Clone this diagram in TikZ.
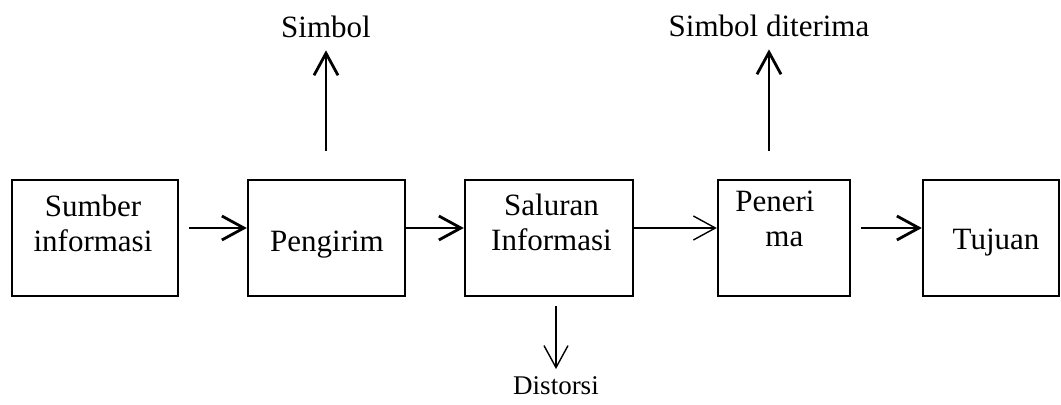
\documentclass[tikz,border=0pt]{standalone}
\usepackage{fontspec}
\setmainfont{Liberation Serif}
\usetikzlibrary{arrows.meta}

\begin{document}
\begin{tikzpicture}[x=0.5pt,y=-0.5pt,>={Straight Barb[length=11pt,width=12pt]},
  every node/.style={font=\fontsize{15.5}{17.5}\selectfont},
  box/.style={draw,line width=1.2pt,minimum height=58pt,inner sep=0pt},
  arr/.style={->,line width=1.4pt},
  thinarr/.style={->,line width=0.7pt}]
  \useasboundingbox (0,0) rectangle (1061,405);

  % kotak-kotak
  \node[box,minimum width=83pt] (sumber) at (95,238) {};
  \node[box,minimum width=78.5pt] (pengirim) at (326.5,238) {};
  \node[box,minimum width=84pt] (saluran) at (549,238) {};
  \node[box,minimum width=66pt] (penerima) at (784,238) {};
  \node[box,minimum width=68pt] (tujuan) at (991,238) {};

  \node[align=center] (sumbertxt) at (93,223) {Sumber\\informasi};
  \node[anchor=base] (pengirimtxt) at (327,252) {Pengirim};
  \node[align=center] (salurantxt) at (551.5,222) {Saluran\\Informasi};
  \node[align=left] (penerimatxt) at (775,219) {Peneri\\\hspace*{15pt}ma};
  \node[anchor=base] (tujuantxt) at (996,250) {Tujuan};

  \node[anchor=base] (simbol) at (326,38) {Simbol};
  \node[anchor=base] (diterima) at (769,37) {Simbol diterima};
  \node[anchor=base,font=\fontsize{13.5}{15}\selectfont] (distorsi) at (556,395) {Distorsi};

  \draw[arr,shorten <=5pt] ([yshift=5pt]sumber.east) -- ([yshift=5pt]pengirim.west);
  \draw[arr] ([yshift=5pt]pengirim.east) -- ([yshift=5pt]saluran.west);
  \draw[thinarr] ([yshift=5pt]saluran.east) -- ([yshift=5pt]penerima.west);
  \draw[arr,shorten <=5pt] ([yshift=5pt]penerima.east) -- ([yshift=5pt]tujuan.west);

  \draw[arr,shorten <=14pt,shorten >=2.5pt] (simbol.south |- pengirim.north) -- (simbol.south);
  \draw[arr,shorten <=14pt,shorten >=2.5pt] (diterima.south |- penerima.north) -- (diterima.south);
  \draw[thinarr,shorten <=4.5pt,shorten >=0.5pt] (distorsi.north |- saluran.south) -- (distorsi.north);
\end{tikzpicture}
\end{document}
